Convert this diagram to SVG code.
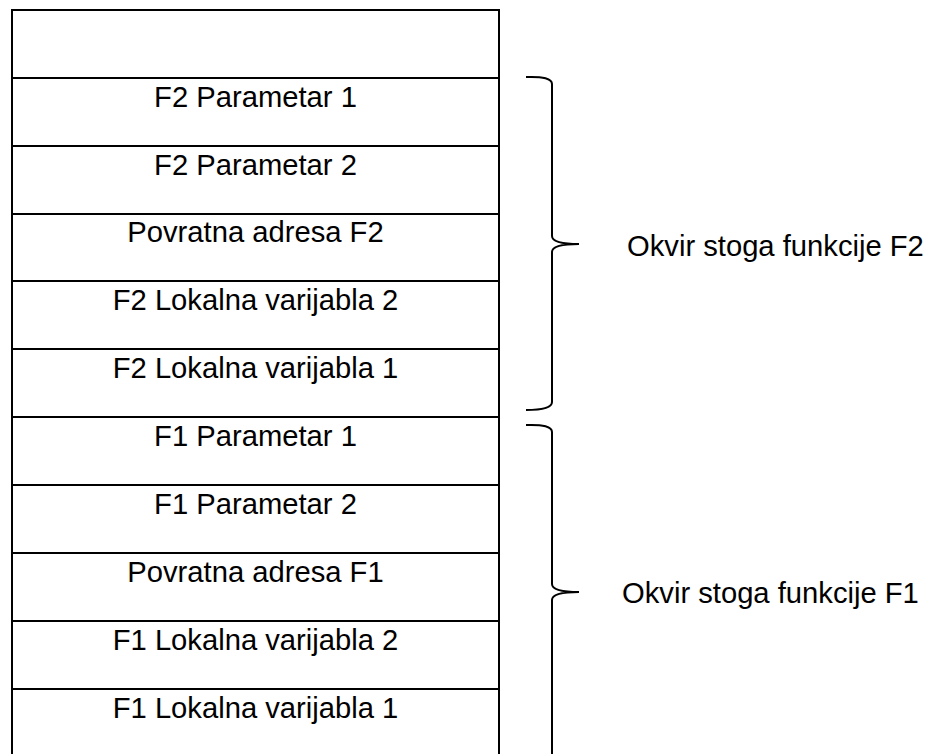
<svg xmlns="http://www.w3.org/2000/svg" width="944" height="754" viewBox="0 0 944 754">
<style>
.cell{fill:#fff;stroke:#000;stroke-width:2}
.t{font-family:"Liberation Sans",Arial,sans-serif;font-size:29.2px;fill:#000;text-anchor:middle}
.lbl{font-family:"Liberation Sans",Arial,sans-serif;font-size:29.2px;fill:#000}
.brace{fill:none;stroke:#000;stroke-width:2}
</style>
<rect width="944" height="754" fill="#fff"/>
<g id="top"><rect class="cell" x="12" y="10" width="487" height="68"/></g>
<g id="f2p1"><rect class="cell" x="12" y="78" width="487" height="68"/><text class="t" x="255.5" y="107">F2 Parametar 1</text></g>
<g id="f2p2"><rect class="cell" x="12" y="146" width="487" height="68"/><text class="t" x="255.5" y="175">F2 Parametar 2</text></g>
<g id="f2ret"><rect class="cell" x="12" y="214" width="487" height="67"/><text class="t" x="255.5" y="242">Povratna adresa F2</text></g>
<g id="f2l2"><rect class="cell" x="12" y="281" width="487" height="68"/><text class="t" x="255.5" y="310">F2 Lokalna varijabla 2</text></g>
<g id="f2l1"><rect class="cell" x="12" y="349" width="487" height="68"/><text class="t" x="255.5" y="378">F2 Lokalna varijabla 1</text></g>
<g id="f1p1"><rect class="cell" x="12" y="417" width="487" height="68"/><text class="t" x="255.5" y="446">F1 Parametar 1</text></g>
<g id="f1p2"><rect class="cell" x="12" y="485" width="487" height="68"/><text class="t" x="255.5" y="514">F1 Parametar 2</text></g>
<g id="f1ret"><rect class="cell" x="12" y="553" width="487" height="68"/><text class="t" x="255.5" y="582">Povratna adresa F1</text></g>
<g id="f1l2"><rect class="cell" x="12" y="621" width="487" height="68"/><text class="t" x="255.5" y="650">F1 Lokalna varijabla 2</text></g>
<g id="f1l1"><rect class="cell" x="12" y="689" width="487" height="80"/><text class="t" x="255.5" y="718">F1 Lokalna varijabla 1</text></g>
<g id="connectors">
<path class="brace" d="M526,77 Q552,76 552,84 L552,236 Q552,244 579,244 Q552,244 552,252 L552,402 Q552,410 526,410"/>
<path class="brace" d="M526,425 Q552,424 552,432 L552,584 Q552,592 579,592 Q552,592 552,600 L552,770"/>
</g>
<g id="frameF2"><text class="lbl" x="627" y="256">Okvir stoga funkcije F2</text></g>
<g id="frameF1"><text class="lbl" x="622" y="603">Okvir stoga funkcije F1</text></g>
</svg>
